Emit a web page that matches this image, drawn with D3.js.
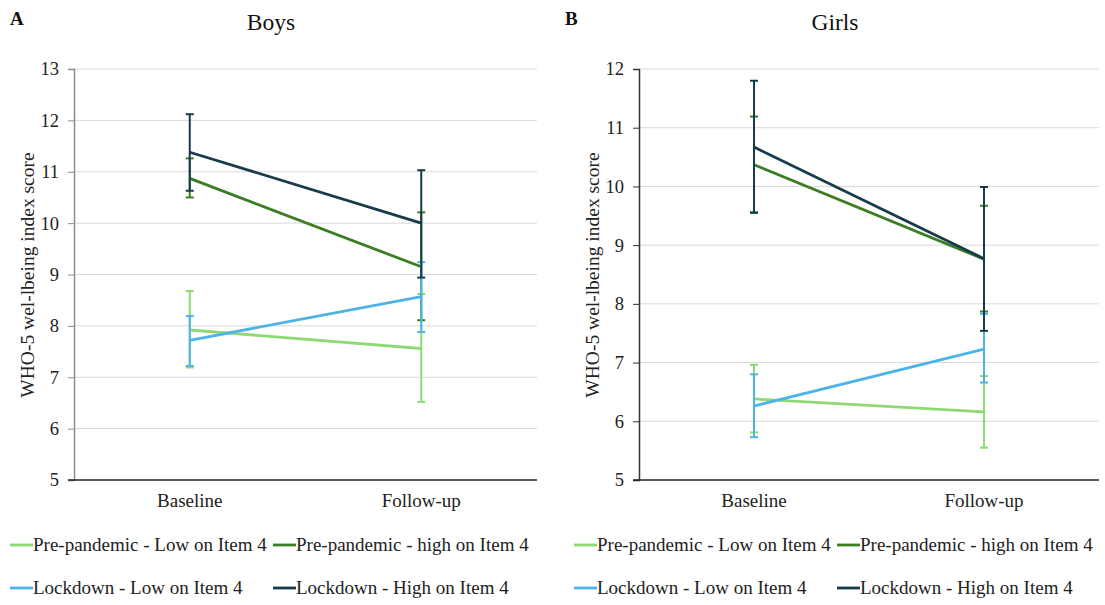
<!DOCTYPE html>
<html><head><meta charset="utf-8">
<script src="https://cdn.jsdelivr.net/npm/d3@7"></script>
<style>
body{margin:0;background:#fff;}
svg text{font-family:"Liberation Serif","Times New Roman",serif !important;}
</style></head>
<body><svg id="c" width="1105" height="605"></svg>
<script>
const categories = ["Baseline", "Follow-up"];
const seriesNames = ["Pre-pandemic - Low on Item 4", "Pre-pandemic - high on Item 4", "Lockdown - Low on Item 4", "Lockdown - High on Item 4"];
const seriesColors = ["#8fd973", "#3a7d22", "#4eb3e6", "#173a4c"];

// Boys: mean, lower, upper per time point
const boysMean  = [[7.92, 7.56], [10.87, 9.15], [7.72, 8.57], [11.38, 10.00]];
const boysLow   = [[7.19, 6.52], [10.50, 8.11], [7.22, 7.88], [10.63, 8.94]];
const boysHigh  = [[8.68, 8.62], [11.26, 10.21], [8.19, 9.24], [12.12, 11.03]];
// Girls
const girlsMean = [[6.38, 6.16], [10.37, 8.76], [6.26, 7.23], [10.67, 8.77]];
const girlsLow  = [[5.81, 5.55], [9.56, 7.87], [5.73, 6.66], [9.55, 7.54]];
const girlsHigh = [[6.96, 6.77], [11.19, 9.67], [6.80, 7.83], [11.80, 9.99]];

const boysTicks = [5,6,7,8,9,10,11,12,13];
const girlsTicks = [5,6,7,8,9,10,11,12];

const FONT = '"Liberation Serif","Times New Roman",serif';
const svg = d3.select("#c");

function panel(opt){
  const g = svg.append("g");
  const x = d3.scaleBand().domain(categories).range([opt.x0, opt.x1]);
  const y = d3.scaleLinear().domain(opt.domain).range([480, 69]);
  g.selectAll(".grid").data(opt.ticks.filter(t=>t!==opt.domain[0])).enter().append("line")
    .attr("x1", opt.x0).attr("x2", opt.x1)
    .attr("y1", d=>y(d)).attr("y2", d=>y(d))
    .attr("stroke", "#d9d9d9").attr("stroke-width", 1);
  const ya = g.append("g").attr("transform", `translate(${opt.x0},0)`)
    .call(d3.axisLeft(y).tickValues(opt.ticks).tickSize(6).tickPadding(9).tickFormat(d3.format("d")));
  ya.attr("font-family", FONT);
  ya.select(".domain").attr("stroke", opt.axisColor).attr("stroke-width", 1.5);
  ya.selectAll(".tick line").attr("stroke", opt.axisColor).attr("stroke-width", 1);
  ya.selectAll("text").attr("font-size", 18.5).attr("fill", "#222").style("font-family", FONT);
  const xa = g.append("g").attr("transform", `translate(0,480)`)
    .call(d3.axisBottom(x).tickSize(0).tickPadding(14));
  xa.attr("font-family", FONT);
  xa.select(".domain").remove();
  g.append("line").attr("x1", opt.x0-6).attr("x2", opt.x1).attr("y1", 480).attr("y2", 480)
    .attr("stroke", "#222").attr("stroke-width", 1.5);
  xa.selectAll("text").attr("font-size", 19).attr("fill", "#222").style("font-family", FONT);
  g.append("text").attr("transform", `translate(${opt.x0-40},275) rotate(-90)`)
    .attr("text-anchor", "middle").attr("font-size", 19.5).attr("fill", "#222").style("font-family", FONT)
    .text("WHO-5 wel-lbeing index score");
  g.append("text").attr("x", opt.titleX).attr("y", 30).attr("text-anchor", "middle")
    .attr("font-size", 23.5).attr("fill", "#111").style("font-family", FONT).text(opt.title);
  g.append("text").attr("x", opt.letterX).attr("y", 25).attr("font-size", 19).attr("font-weight", "bold")
    .attr("fill", "#111").style("font-family", FONT).text(opt.letter);

  const cx = c => x(c) + x.bandwidth()/2;
  const line = d3.line().x((d,i)=>cx(categories[i])).y(d=>y(d));
  seriesNames.forEach((s, si) => {
    const col = seriesColors[si];
    const eg = g.append("g");
    categories.forEach((c, ci) => {
      const lo = opt.low[si][ci], hi = opt.high[si][ci];
      eg.append("line").attr("x1", cx(c)).attr("x2", cx(c)).attr("y1", y(lo)).attr("y2", y(hi))
        .attr("stroke", col).attr("stroke-width", 2);
      [lo, hi].forEach(v => eg.append("line").attr("x1", cx(c)-4).attr("x2", cx(c)+4)
        .attr("y1", y(v)).attr("y2", y(v)).attr("stroke", col).attr("stroke-width", 2));
    });
    g.append("path").datum(opt.mean[si]).attr("d", line).attr("fill", "none")
      .attr("stroke", col).attr("stroke-width", 2.8);
  });

  const lx = [opt.legendX, opt.legendX + 263];
  const ly = [545, 588];
  seriesNames.forEach((s, si) => {
    const px = lx[si % 2], py = ly[Math.floor(si/2)];
    g.append("line").attr("x1", px).attr("x2", px+23).attr("y1", py).attr("y2", py)
      .attr("stroke", seriesColors[si]).attr("stroke-width", 2.8);
    g.append("text").attr("x", px+23).attr("y", py+6).attr("font-size", 19).attr("fill", "#222")
      .style("font-family", FONT).text(s);
  });
}

panel({x0:74, x1:537, domain:[5,13], ticks:boysTicks, mean:boysMean, low:boysLow, high:boysHigh,
  title:"Boys", titleX:271, letter:"A", letterX:10, axisColor:"#8c8c8c", legendX:10});
panel({x0:639, x1:1099, domain:[5,12], ticks:girlsTicks, mean:girlsMean, low:girlsLow, high:girlsHigh,
  title:"Girls", titleX:835, letter:"B", letterX:565, axisColor:"#333", legendX:574});
</script></body></html>
